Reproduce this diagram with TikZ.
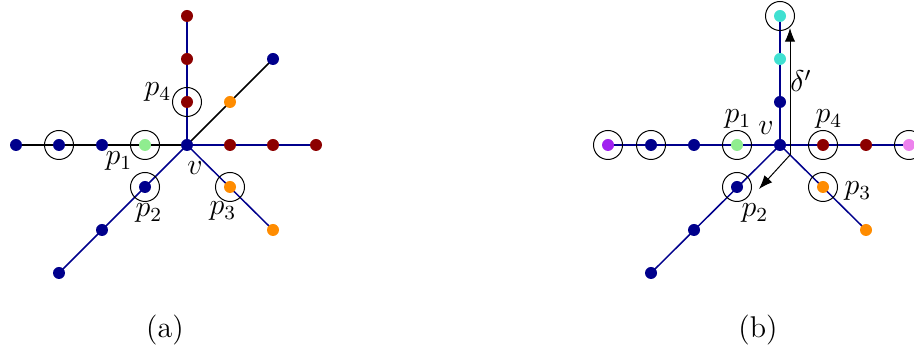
\documentclass[tikz,border=0pt]{standalone}
\usetikzlibrary{arrows.meta}
\definecolor{nv}{rgb}{0,0,0.55}
\definecolor{dr}{rgb}{0.55,0,0}
\definecolor{og}{rgb}{1,0.55,0}
\definecolor{lg}{rgb}{0.56,0.93,0.56}
\definecolor{tq}{rgb}{0.25,0.88,0.82}
\definecolor{pu}{rgb}{0.63,0.13,0.94}
\definecolor{vi}{rgb}{0.93,0.51,0.93}
\tikzset{
  dot/.style={circle,fill=#1,inner sep=0pt,minimum size=4.8pt},
  ring/.style={circle,draw=black,line width=0.4pt,inner sep=0pt,minimum size=11.6pt},
  edge/.style={draw=nv,line width=0.6pt},
  bedge/.style={draw=black,line width=0.6pt},
  lab/.style={inner sep=0pt,font=\large},
  arr/.style={draw=black,line width=0.4pt,-{Latex[length=5.5pt,width=4.2pt]}}
}
\begin{document}
\begin{tikzpicture}[x=0.4pt,y=-0.4pt]
\useasboundingbox (0,0) rectangle (914,358);
% ---------- panel (a)
\coordinate (av) at (187,145);
\coordinate (aL1) at (145,145); \coordinate (aL2) at (102,145); \coordinate (aL3) at (59,145); \coordinate (aL4) at (16,145);
\coordinate (aR1) at (230,145); \coordinate (aR2) at (273,145); \coordinate (aR3) at (316,145);
\coordinate (aU1) at (187,102); \coordinate (aU2) at (187,59); \coordinate (aU3) at (187,16);
\coordinate (aD1) at (230,102); \coordinate (aD2) at (273,59);
\coordinate (aS1) at (145,187); \coordinate (aS2) at (102,230); \coordinate (aS3) at (59,273);
\coordinate (aT1) at (230,187); \coordinate (aT2) at (273,230);
\path[edge] (av) -- (aR3);
\path[edge] (av) -- (aU3);
\path[edge] (av) -- (aS3);
\path[edge] (av) -- (aT2);
\path[bedge] (av) -- (aL4);
\path[bedge] (av) -- (aD2);
\node[dot=lg] (na1) at (aL1) {};
\node[dot=nv] (na2) at (aL2) {};
\node[dot=nv] (na3) at (aL3) {};
\node[dot=nv] (na4) at (aL4) {};
\node[dot=dr] (na5) at (aR1) {};
\node[dot=dr] (na6) at (aR2) {};
\node[dot=dr] (na7) at (aR3) {};
\node[dot=dr] (na8) at (aU1) {};
\node[dot=dr] (na9) at (aU2) {};
\node[dot=dr] (na10) at (aU3) {};
\node[dot=og] (na11) at (aD1) {};
\node[dot=nv] (na12) at (aD2) {};
\node[dot=nv] (na13) at (aS1) {};
\node[dot=nv] (na14) at (aS2) {};
\node[dot=nv] (na15) at (aS3) {};
\node[dot=og] (na16) at (aT1) {};
\node[dot=og] (na17) at (aT2) {};
\node[dot=nv] (nav) at (av) {};
\node[ring] (ra1) at (aL1) {};
\node[ring] (ra2) at (aL3) {};
\node[ring] (ra3) at (aU1) {};
\node[ring] (ra4) at (aS1) {};
\node[ring] (ra5) at (aT1) {};
\node[lab] (la4) at (158,92) {$p_4$};
\node[lab] (la1) at (119,161) {$p_1$};
\node[lab] (la2) at (149,213) {$p_2$};
\node[lab] (la3) at (223,211) {$p_3$};
\node[lab] (lav) at (195,168) {$v$};
\node[lab] (capa) at (165,330) {(a)};
% ---------- panel (b)
\coordinate (bv) at (780,145);
\coordinate (bL1) at (737,145); \coordinate (bL2) at (694,145); \coordinate (bL3) at (651,145); \coordinate (bL4) at (608,145);
\coordinate (bR1) at (823,145); \coordinate (bR2) at (866,145); \coordinate (bR3) at (909,145);
\coordinate (bU1) at (780,102); \coordinate (bU2) at (780,59); \coordinate (bU3) at (780,16);
\coordinate (bS1) at (737,187); \coordinate (bS2) at (694,230); \coordinate (bS3) at (651,273);
\coordinate (bT1) at (823,187); \coordinate (bT2) at (866,230);
\path[edge] (bv) -- (bL4);
\path[edge] (bv) -- (bR3);
\path[edge] (bv) -- (bU3);
\path[edge] (bv) -- (bS3);
\path[edge] (bv) -- (bT2);
\node[dot=lg] (nb1) at (bL1) {};
\node[dot=nv] (nb2) at (bL2) {};
\node[dot=nv] (nb3) at (bL3) {};
\node[dot=pu] (nb4) at (bL4) {};
\node[dot=dr] (nb5) at (bR1) {};
\node[dot=dr] (nb6) at (bR2) {};
\node[dot=vi] (nb7) at (bR3) {};
\node[dot=nv] (nb8) at (bU1) {};
\node[dot=tq] (nb9) at (bU2) {};
\node[dot=tq] (nb10) at (bU3) {};
\node[dot=nv] (nb13) at (bS1) {};
\node[dot=nv] (nb14) at (bS2) {};
\node[dot=nv] (nb15) at (bS3) {};
\node[dot=og] (nb16) at (bT1) {};
\node[dot=og] (nb17) at (bT2) {};
\node[dot=nv] (nbv) at (bv) {};
\node[ring] (rb1) at (bL1) {};
\node[ring] (rb2) at (bL3) {};
\node[ring] (rb3) at (bL4) {};
\node[ring] (rb4) at (bR1) {};
\node[ring] (rb5) at (bR3) {};
\node[ring] (rb6) at (bU3) {};
\node[ring] (rb7) at (bS1) {};
\node[ring] (rb8) at (bT1) {};
\coordinate (bo) at (790,155);
\coordinate (btop) at (790,28);
\coordinate (bdl) at (759,189);
\draw[arr] (bo) -- (btop);
\draw[arr] (bo) -- (bdl);
\node[lab] (lb1) at (738,119) {$p_1$};
\node[lab] (lbv) at (766,128) {$v$};
\node[lab] (lb4) at (829,119) {$p_4$};
\node[lab] (lb3) at (858,191) {$p_3$};
\node[lab] (lb2) at (755,213) {$p_2$};
\node[lab] (lbd) at (801,81) {$\delta'$};
\node[lab] (capb) at (758,330) {(b)};
\end{tikzpicture}
\end{document}
